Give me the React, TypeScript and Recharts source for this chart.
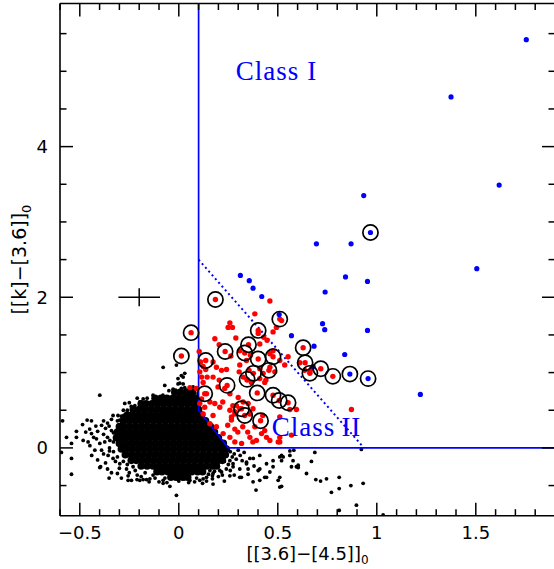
import { ScatterChart, Scatter, XAxis, YAxis, ErrorBar, ReferenceDot } from 'recharts';

// axis ticks
const xTicks = [-0.6, -0.5, -0.4, -0.3, -0.2, -0.1, 0, 0.1, 0.2, 0.3, 0.4, 0.5, 0.6, 0.7, 0.8, 0.9, 1, 1.1, 1.2, 1.3, 1.4, 1.5, 1.6, 1.7, 1.8, 1.9];
const xMajorTicks = [-0.5, 0, 0.5, 1, 1.5];
const xTickLabels = ['\u22120.5', '0', '0.5', '1', '1.5'];
const yTicks = [-0.5, 0, 0.5, 1, 1.5, 2, 2.5, 3, 3.5, 4, 4.5, 5, 5.5];
const yMajorTicks = [0, 2, 4];
const yTickLabels = ['0', '2', '4'];

// dense crowd of field stars, read row by row: [y, xs]
const coreRows: [number, number[]][] = [
  [0.74, [-0.02, 0.01, 0.04, 0.07]],
  [0.66, [-0.12, -0.09, -0.06, -0.03, 0.0, 0.03, 0.06, 0.085]],
  [0.585, [-0.19, -0.165, -0.135, -0.105, -0.075, -0.045, -0.015, 0.015, 0.045, 0.075, 0.095]],
  [0.51, [-0.23, -0.2, -0.17, -0.14, -0.11, -0.08, -0.05, -0.02, 0.01, 0.04, 0.07, 0.1]],
  [0.435, [-0.26, -0.235, -0.205, -0.175, -0.145, -0.115, -0.085, -0.055, -0.025, 0.005, 0.035, 0.065, 0.095, 0.115]],
  [0.36, [-0.28, -0.25, -0.22, -0.19, -0.16, -0.13, -0.1, -0.07, -0.04, -0.01, 0.02, 0.05, 0.08, 0.11, 0.135]],
  [0.285, [-0.3, -0.275, -0.245, -0.215, -0.185, -0.155, -0.125, -0.095, -0.065, -0.035, -0.005, 0.025, 0.055, 0.085, 0.115, 0.145, 0.16]],
  [0.21, [-0.31, -0.28, -0.25, -0.22, -0.19, -0.16, -0.13, -0.1, -0.07, -0.04, -0.01, 0.02, 0.05, 0.08, 0.11, 0.14, 0.17, 0.18]],
  [0.135, [-0.315, -0.295, -0.265, -0.235, -0.205, -0.175, -0.145, -0.115, -0.085, -0.055, -0.025, 0.005, 0.035, 0.065, 0.095, 0.125, 0.155, 0.185, 0.2]],
  [0.06, [-0.3, -0.27, -0.24, -0.21, -0.18, -0.15, -0.12, -0.09, -0.06, -0.03, 0.0, 0.03, 0.06, 0.09, 0.12, 0.15, 0.18, 0.21, 0.225]],
  [-0.015, [-0.29, -0.265, -0.235, -0.205, -0.175, -0.145, -0.115, -0.085, -0.055, -0.025, 0.005, 0.035, 0.065, 0.095, 0.125, 0.155, 0.185, 0.215, 0.24]],
  [-0.09, [-0.27, -0.24, -0.21, -0.18, -0.15, -0.12, -0.09, -0.06, -0.03, 0.0, 0.03, 0.06, 0.09, 0.12, 0.15, 0.18, 0.21, 0.235]],
  [-0.165, [-0.24, -0.215, -0.185, -0.155, -0.125, -0.095, -0.065, -0.035, -0.005, 0.025, 0.055, 0.085, 0.115, 0.145, 0.175, 0.2, 0.22]],
  [-0.24, [-0.19, -0.16, -0.13, -0.1, -0.07, -0.04, -0.01, 0.02, 0.05, 0.08, 0.11, 0.14, 0.17, 0.19]],
  [-0.315, [-0.11, -0.085, -0.055, -0.025, 0.005, 0.035, 0.065, 0.095, 0.12]],
  [-0.39, [-0.04, -0.01, 0.02, 0.045]],
];

// scattered field stars
const fieldStars: [number, number][] = [
  [-0.587, 0.36], [-0.567, 0.14], [-0.542, 0.06], [-0.542, -0.14], [-0.542, -0.35], [-0.593, -0.06],
  [-0.517, 0.22], [-0.517, 0.14], [-0.486, 0.31], [-0.463, 0.37], [-0.441, 0.36], [-0.47, 0.21],
  [-0.441, 0.19], [-0.483, 0.1], [-0.458, 0.08], [-0.449, 0.03], [-0.424, -0.03], [-0.39, -0.03],
  [-0.419, 0.29], [-0.39, 0.3], [-0.416, 0.12], [-0.399, 0.06], [-0.374, 0.08], [-0.348, 0.1],
  [-0.34, 0.23], [-0.352, 0.29], [-0.332, 0.43], [-0.307, 0.43], [-0.278, 0.43], [-0.298, 0.37],
  [-0.395, -0.25], [-0.357, -0.1], [-0.332, -0.14], [-0.298, -0.21], [-0.264, -0.28], [-0.231, -0.25],
  [-0.256, -0.37], [-0.239, -0.43], [-0.211, -0.42], [-0.18, -0.42], [-0.146, -0.41], [-0.34, -0.33],
  [-0.352, -0.4], [-0.29, -0.4], [-0.079, -0.47], [-0.045, -0.51], [-0.012, -0.63], [-0.273, 0.59],
  [-0.222, 0.56], [-0.197, 0.61], [-0.399, 0.7], [-0.18, 0.65], [-0.004, 0.85], [-0.029, 0.78],
  [0.013, 0.79], [-0.399, -0.26], [0.106, -0.43], [-0.197, -0.43], [-0.163, -0.42], [-0.256, -0.43],
  [-0.079, -0.43], [-0.079, 1.07], [-0.012, 1.1], [-0.071, 0.83], [0.022, 0.94], [0.03, 0.99],
  [0.005, 0.86], [0.056, 0.74], [0.072, 0.81], [-0.004, 0.92], [0.013, 0.96], [0.022, 0.85],
  [0.047, 0.7], [0.064, 0.62], [0.14, -0.39], [0.173, -0.34], [0.207, -0.3], [0.274, -0.21],
  [0.308, -0.28], [0.342, -0.21], [0.376, -0.14], [0.409, -0.28], [0.443, -0.21], [0.476, -0.17],
  [0.39, -0.56], [0.409, -0.43], [0.443, -0.39], [0.502, -0.43], [0.51, -0.52], [0.527, -0.12],
  [0.577, -0.17], [0.594, -0.25], [0.308, -0.39], [0.258, -0.17], [0.519, -0.1], [0.519, -0.17],
  [0.561, -0.04], [0.581, -0.03], [0.687, -0.06], [0.67, -0.18], [0.569, -0.25], [0.603, -0.26],
  [0.645, -0.34], [0.692, -0.42], [0.716, -0.44], [0.746, -0.41], [0.771, -0.59], [0.81, -0.54],
  [0.81, -0.39], [0.869, -0.5], [0.931, -0.47], [0.922, -0.02], [0.519, -0.51], [0.81, -0.83],
  [0.897, -0.76], [1.032, -0.89], [0.342, -0.19], [0.359, -0.14], [0.409, -0.1], [0.476, -0.25],
  [0.51, -0.12], [0.561, -0.1], [0.603, -0.23], [0.401, -0.3], [0.434, -0.39], [0.375, -0.45],
  [0.316, -0.39], [0.274, -0.25], [0.258, -0.37], [0.216, -0.32], [0.173, -0.48], [0.123, -0.41],
  [0.056, -0.43], [0.157, -0.3], [0.35, -0.28], [0.46, -0.32], [0.51, -0.39],
  [0.26, -0.05], [0.28, -0.08], [0.3, -0.03], [0.27, -0.12], [0.25, -0.22], [0.29, -0.15],
  [0.31, -0.1], [0.33, -0.06], [0.24, -0.28], [0.2, -0.25], [0.22, -0.36], [0.18, -0.31],
  [0.15, -0.35], [0.23, -0.44], [-0.33, 0.2], [-0.35, 0.0], [-0.33, -0.05], [-0.31, -0.12],
  [-0.28, -0.18], [-0.26, -0.22], [-0.22, -0.3], [-0.17, -0.33], [-0.13, -0.36], [-0.07, -0.4],
  [0.0, -0.44], [0.05, -0.46], [0.09, -0.4], [0.17, -0.41], [-0.31, 0.36], [-0.29, 0.42],
  [-0.26, 0.5], [-0.24, 0.55], [-0.16, 0.66], [-0.08, 0.7], [-0.05, 0.76], [0.03, 0.8],
  [0.09, 0.78], [-0.36, 0.33], [-0.38, 0.18], [-0.37, -0.2], [-0.21, -0.36], [-0.1, -0.45],
  [0.12, -0.47], [0.2, -0.38],
  [-0.45, 0.25], [-0.43, 0.14], [-0.41, 0.22], [-0.38, 0.36], [-0.37, 0.26], [-0.36, 0.14],
  [-0.35, -0.04], [-0.34, 0.38], [-0.33, 0.08], [-0.32, -0.18], [-0.3, -0.27], [-0.28, 0.5],
  [-0.25, 0.6], [-0.21, 0.66], [-0.13, 0.7], [-0.44, -0.1], [-0.41, -0.16], [-0.38, -0.08],
  [-0.36, -0.28], [-0.31, -0.34], [-0.25, -0.33], [-0.19, -0.38], [-0.15, -0.45], [-0.12, -0.4],
  [-0.06, -0.46], [-0.02, -0.41], [0.03, -0.41], [0.08, -0.45], [0.14, -0.44], [0.17, -0.37],
  [0.23, -0.18], [0.26, -0.3], [0.28, -0.36], [0.32, -0.17], [0.35, -0.35], [0.38, -0.24],
];

// Class II sources
const classII: [number, number][] = [
  [0.46, 1.95], [0.384, 1.78], [0.258, 1.66], [0.249, 1.6], [0.271, 1.6], [0.182, 1.45], [0.288, 1.46],
  [0.204, 1.37], [0.308, 1.29], [0.263, 1.22], [0.103, 1.28], [0.11, 1.14], [0.123, 1.08], [0.106, 1.01],
  [0.136, 1.04], [0.115, 0.94], [0.143, 0.94], [0.123, 0.87], [0.173, 1.14], [0.19, 1.07], [0.216, 1.03],
  [0.173, 0.94], [0.204, 0.9], [0.241, 1.04], [0.308, 1.1], [0.305, 1.01], [0.342, 1.16], [0.362, 1.23],
  [0.355, 1.03], [0.409, 1.05], [0.426, 0.99], [0.325, 0.94], [0.345, 0.9], [0.367, 0.87], [0.434, 0.87],
  [0.232, 0.79], [0.198, 0.81], [0.258, 0.72], [0.089, 0.79], [0.056, 0.8], [0.14, 0.72], [0.115, 0.65],
  [0.157, 0.61], [0.3, 0.67], [0.325, 0.61], [0.291, 0.56], [0.308, 0.52], [0.35, 0.59], [0.375, 0.52],
  [0.283, 0.48], [0.266, 0.41], [0.429, 1.47], [0.446, 1.43], [0.401, 1.52], [0.409, 1.38], [0.476, 1.29],
  [0.46, 1.25], [0.493, 1.6], [0.519, 1.69], [0.476, 1.54], [0.51, 1.16], [0.535, 1.1], [0.552, 1.21],
  [0.46, 1.07], [0.485, 1.01], [0.409, 0.92], [0.44, 0.9], [0.611, 1.13], [0.636, 1.03], [0.662, 1.01],
  [0.67, 1.05], [0.561, 0.51], [0.594, 0.51], [0.872, 0.51], [0.51, 0.41], [0.182, 0.59], [0.222, 0.61],
  [0.273, 0.56], [0.266, 0.37], [0.247, 0.3], [0.283, 0.25], [0.298, 0.21], [0.323, 0.28], [0.348, 0.21],
  [0.359, 0.14], [0.374, 0.08], [0.392, 0.1], [0.418, 0.19], [0.434, 0.23], [0.443, 0.14], [0.46, 0.1],
  [0.51, 0.08], [0.384, 0.28], [0.424, 0.43], [0.359, 0.45], [0.283, 0.45], [0.258, 0.5], [0.207, 0.54],
  [0.106, 0.59], [0.131, 0.54], [0.123, 0.45], [0.173, 0.43], [0.157, 0.32], [0.19, 0.28], [0.224, 0.19],
  [0.258, 0.14], [0.283, 0.08], [0.317, 0.06], [0.51, 0.14], [0.502, 0.08], [0.569, 0.17],
];

// Class I sources
const classI: [number, number][] = [
  [1.755, 5.42], [1.375, 4.66], [1.618, 3.49], [0.934, 3.35], [0.87, 2.71], [0.695, 2.71], [0.311, 2.29],
  [0.356, 2.22], [0.375, 2.12], [0.419, 2.01], [0.842, 2.27], [0.953, 2.21], [0.739, 2.07], [0.507, 1.77],
  [0.726, 1.65], [0.737, 1.57], [0.953, 1.56], [0.569, 1.49], [0.683, 1.35], [0.838, 1.24], [0.678, 1.08],
  [1.22, 0.71], [1.505, 2.38],
];

// sources marked with a ring
const ringedII: [number, number][] = [
  [0.185, 1.97], [0.51, 1.71], [0.062, 1.53], [0.401, 1.56], [0.628, 1.33], [0.013, 1.22], [0.136, 1.16],
  [0.234, 1.28], [0.352, 1.37], [0.333, 1.26], [0.401, 1.18], [0.476, 1.21], [0.455, 1.03], [0.377, 0.99],
  [0.345, 0.91], [0.638, 1.13], [0.662, 0.99], [0.717, 1.05], [0.778, 0.95], [0.244, 0.83], [0.131, 0.72],
  [0.396, 0.73], [0.476, 0.7], [0.507, 0.63], [0.552, 0.6], [0.317, 0.52], [0.333, 0.43], [0.413, 0.36],
];
const ringedI: [number, number][] = [[0.968, 2.86], [0.864, 0.98], [0.956, 0.92]];

// class boundaries
const classLimit = [{ x: 0.1, y: 5.9 }, { x: 0.1, y: 0.5 }, { x: 0.25, y: 0 }, { x: 1.9, y: 0 }];
const classIILimit = [{ x: 0.1, y: 2.5 }, { x: 0.935, y: 0 }];

// typical error
const typicalError = [{ x: -0.2, y: 2, ex: 0.105, ey: 0.12 }];

const pts = (arr: [number, number][]) => arr.map(([x, y]) => ({ x, y }));
const corePts = coreRows.flatMap(([y, xs]) => xs.map((x) => ({ x, y })));

const BLUE = '#0000ff';
const TICK_FONT = 'DejaVu Sans';

const dot = (r: number, fill: string) => (p: any) => <circle cx={p.cx} cy={p.cy} r={r} fill={fill} />;
const ring = (p: any) => <circle cx={p.cx} cy={p.cy} r={7.6} fill="none" stroke="#000" strokeWidth={1.7} />;
const none = () => <g />;

const majorIndex = (majors: number[], v: number) => majors.findIndex((m) => Math.abs(m - v) < 1e-6);

const BottomTick = (p: any) => {
  const i = majorIndex(xMajorTicks, p.payload.value);
  return (
    <g>
      <line x1={p.x} x2={p.x} y1={p.y} y2={p.y - (i >= 0 ? 13 : 6.5)} stroke="#000" strokeWidth={1.5} />
      {i >= 0 && (
        <text x={p.x} y={p.y + 23.5} textAnchor="middle" fontSize={18} fontFamily={TICK_FONT} fill="#000">
          {xTickLabels[i]}
        </text>
      )}
    </g>
  );
};

const TopTick = (p: any) => {
  const i = majorIndex(xMajorTicks, p.payload.value);
  return <line x1={p.x} x2={p.x} y1={p.y} y2={p.y + (i >= 0 ? 13 : 6.5)} stroke="#000" strokeWidth={1.5} />;
};

const LeftTick = (p: any) => {
  const i = majorIndex(yMajorTicks, p.payload.value);
  return (
    <g>
      <line x1={p.x} x2={p.x + (i >= 0 ? 13 : 6.5)} y1={p.y} y2={p.y} stroke="#000" strokeWidth={1.5} />
      {i >= 0 && (
        <text x={p.x - 12} y={p.y + 6.5} textAnchor="end" fontSize={18} fontFamily={TICK_FONT} fill="#000">
          {yTickLabels[i]}
        </text>
      )}
    </g>
  );
};

const RightTick = (p: any) => {
  const i = majorIndex(yMajorTicks, p.payload.value);
  return <line x1={p.x} x2={p.x - (i >= 0 ? 13 : 6.5)} y1={p.y} y2={p.y} stroke="#000" strokeWidth={1.5} />;
};

const XTitle = (p: any) => {
  const vb = p.viewBox;
  return (
    <text x={vb.x + vb.width / 2} y={vb.y + 44} textAnchor="middle" fontSize={18} fontFamily={TICK_FONT} fill="#000">
      [[3.6]{'\u2212'}[4.5]]
      <tspan dy={4} fontSize={12}>0</tspan>
    </text>
  );
};

const YTitle = (p: any) => {
  const vb = p.viewBox;
  const cx = vb.x + vb.width - 34;
  const cy = vb.y + vb.height / 2;
  return (
    <text x={cx} y={cy} transform={`rotate(-90 ${cx} ${cy})`} textAnchor="middle" fontSize={19} fontFamily={TICK_FONT} fill="#000">
      [[k]{'\u2212'}[3.6]]
      <tspan dy={5} fontSize={13}>0</tspan>
    </text>
  );
};

const classText = (first: string, second: string, gap: number) => (p: any) => (
  <text x={p.cx} y={p.cy} fontSize={27} fontFamily="Liberation Serif" letterSpacing={1} fill={BLUE}>
    {first}
    <tspan dx={gap}>{second}</tspan>
  </text>
);

const frame = { stroke: '#000', strokeWidth: 1.6 };

export default function App() {
  return (
    <div style={{ position: 'absolute', left: 0, top: 0, width: 554, height: 569, overflow: 'hidden', background: '#fff' }}>
      <ScatterChart width={556} height={569} margin={{ top: 2.5, right: 0, bottom: 52.3, left: 59 }}>
        <XAxis
          type="number"
          dataKey="x"
          domain={[-0.6, 1.9]}
          allowDataOverflow
          ticks={xTicks}
          interval={0}
          height={1}
          tickSize={0}
          tickMargin={0}
          tickLine={false}
          axisLine={frame}
          tick={(p: any) => <BottomTick {...p} />}
          label={{ content: (p: any) => <XTitle {...p} /> }}
        />
        <XAxis
          xAxisId="top"
          orientation="top"
          type="number"
          dataKey="x"
          domain={[-0.6, 1.9]}
          allowDataOverflow
          ticks={xTicks}
          interval={0}
          height={1}
          tickSize={0}
          tickMargin={0}
          tickLine={false}
          axisLine={frame}
          tick={(p: any) => <TopTick {...p} />}
        />
        <YAxis
          type="number"
          dataKey="y"
          domain={[-0.9, 5.9]}
          allowDataOverflow
          ticks={yTicks}
          interval={0}
          width={1}
          tickSize={0}
          tickMargin={0}
          tickLine={false}
          axisLine={frame}
          tick={(p: any) => <LeftTick {...p} />}
          label={{ content: (p: any) => <YTitle {...p} /> }}
        />
        <YAxis
          yAxisId="right"
          orientation="right"
          type="number"
          dataKey="y"
          domain={[-0.9, 5.9]}
          allowDataOverflow
          ticks={yTicks}
          interval={0}
          width={1}
          tickSize={0}
          tickMargin={0}
          tickLine={false}
          axisLine={frame}
          tick={(p: any) => <RightTick {...p} />}
        />

        <Scatter data={corePts} shape={dot(3.8, '#000')} isAnimationActive={false} />
        <Scatter data={pts(fieldStars)} shape={dot(1.9, '#000')} isAnimationActive={false} />

        <Scatter
          data={classLimit}
          line={{ stroke: BLUE, strokeWidth: 1.7 }}
          shape={none}
          isAnimationActive={false}
        />
        <Scatter
          data={classIILimit}
          line={{ stroke: BLUE, strokeWidth: 2, strokeDasharray: '2 3' }}
          shape={none}
          isAnimationActive={false}
        />

        <Scatter data={pts(classII)} shape={dot(2.7, '#ff0000')} isAnimationActive={false} />
        <Scatter data={pts(ringedII)} shape={dot(2.7, '#ff0000')} isAnimationActive={false} />
        <Scatter data={pts(classI)} shape={dot(2.6, BLUE)} isAnimationActive={false} />
        <Scatter data={pts(ringedI)} shape={dot(2.6, BLUE)} isAnimationActive={false} />
        <Scatter data={pts(ringedII)} shape={ring} isAnimationActive={false} />
        <Scatter data={pts(ringedI)} shape={ring} isAnimationActive={false} />

        <Scatter data={typicalError} shape={none} isAnimationActive={false}>
          <ErrorBar dataKey="ex" direction="x" width={0} stroke="#000" strokeWidth={1.5} />
          <ErrorBar dataKey="ey" direction="y" width={0} stroke="#000" strokeWidth={1.5} />
        </Scatter>

        <ReferenceDot x={0.288} y={4.88} r={0} shape={classText('Class', 'I', 8)} />
        <ReferenceDot x={0.47} y={0.153} r={0} shape={classText('Class', 'II', 6)} />
      </ScatterChart>
    </div>
  );
}
